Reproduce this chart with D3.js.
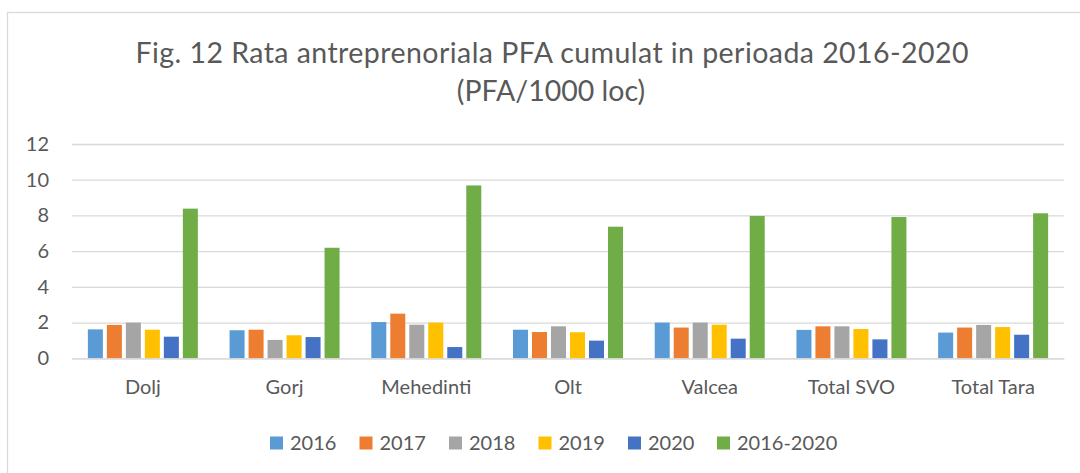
<!DOCTYPE html>
<html>
<head>
<meta charset="utf-8">
<script src="https://cdn.jsdelivr.net/npm/d3@7"></script>
<style>
  html, body { margin: 0; padding: 0; background: #fff; }
  svg { display: block; font-family: Lato, "Open Sans", sans-serif; }
</style>
</head>
<body>
<svg id="chart" width="1080" height="473"></svg>
<script>
const titleLines = ["Fig. 12 Rata antreprenoriala PFA cumulat in perioada 2016-2020", "(PFA/1000 loc)"];
const categories = ["Dolj", "Gorj", "Mehedinti", "Olt", "Valcea", "Total SVO", "Total Tara"];
const seriesNames = ["2016", "2017", "2018", "2019", "2020", "2016-2020"];
const seriesColors = ["#5B9BD5", "#ED7D31", "#A5A5A5", "#FFC000", "#4472C4", "#70AD47"];
const v2016 = [1.62, 1.57, 2.03, 1.60, 2.00, 1.59, 1.44];
const v2017 = [1.87, 1.60, 2.50, 1.47, 1.72, 1.79, 1.72];
const v2018 = [2.00, 1.03, 1.88, 1.79, 2.00, 1.79, 1.87];
const v2019 = [1.60, 1.29, 2.00, 1.46, 1.88, 1.64, 1.75];
const v2020 = [1.21, 1.19, 0.63, 0.99, 1.10, 1.06, 1.32];
const vTotal = [8.38, 6.19, 9.68, 7.37, 7.97, 7.91, 8.12];
const yTicks = [0, 2, 4, 6, 8, 10, 12];

const seriesValues = [v2016, v2017, v2018, v2019, v2020, vTotal];
const rows = categories.map((c, i) => ({ cat: c, vals: seriesNames.map((s, j) => ({ key: s, value: seriesValues[j][i], color: seriesColors[j] })) }));

const svg = d3.select("#chart");
const textColor = "#595959";
const gridColor = "#D9D9D9";

// outer chart border
svg.append("rect").attr("x", 7.5).attr("y", 12.5).attr("width", 1100).attr("height", 500)
  .attr("fill", "none").attr("stroke", gridColor).attr("stroke-width", 1.3);

// title
const title = svg.append("text").attr("text-anchor", "middle").attr("fill", textColor)
  .attr("font-size", 28.5);
title.append("tspan").attr("x", 552).attr("y", 63).attr("textLength", 833).attr("lengthAdjust", "spacing").text(titleLines[0]);
title.append("tspan").attr("x", 551).attr("y", 101).text(titleLines[1]);

const x0 = d3.scaleBand().domain(categories).range([72, 1064]).paddingInner(0).paddingOuter(0);
const x1 = d3.scaleBand().domain(seriesNames).range([0, x0.bandwidth()]).paddingInner(0.21).paddingOuter(0.835);
const y = d3.scaleLinear().domain([0, 12]).range([358.3, 144]);

// gridlines
const yAxis = d3.axisLeft(y).tickValues(yTicks).tickSize(-(1064 - 72)).tickPadding(23);
const gy = svg.append("g").attr("transform", "translate(72,0)").call(yAxis);
gy.select(".domain").remove();
gy.selectAll(".tick line").attr("stroke", gridColor).attr("stroke-width", 1.3);
gy.selectAll(".tick text").attr("fill", textColor).attr("font-size", 20)
  .attr("font-family", "Lato, 'Open Sans', sans-serif");

// bars
const groups = svg.append("g").selectAll("g").data(rows).join("g")
  .attr("transform", d => `translate(${x0(d.cat)},0)`);
groups.selectAll("rect").data(d => d.vals).join("rect")
  .attr("x", d => x1(d.key))
  .attr("width", x1.bandwidth())
  .attr("y", d => y(d.value))
  .attr("height", d => y(0) - y(d.value))
  .attr("fill", d => d.color);

// x axis
const xAxis = d3.axisBottom(x0).tickSize(0).tickPadding(22);
const gx = svg.append("g").attr("transform", `translate(0,${y(0)})`).call(xAxis);
gx.select(".domain").attr("stroke", gridColor).attr("stroke-width", 1.3);
gx.selectAll(".tick text").attr("fill", textColor).attr("font-size", 20)
  .attr("font-family", "Lato, 'Open Sans', sans-serif");

// legend
const legendX = [270, 359.5, 449, 538.5, 628, 717];
const lg = svg.append("g").selectAll("g").data(seriesNames).join("g")
  .attr("transform", (d, i) => `translate(${legendX[i]},436.5)`);
lg.append("rect").attr("width", 13).attr("height", 13).attr("fill", (d, i) => seriesColors[i]);
lg.append("text").attr("x", 20).attr("y", 13.5).attr("fill", textColor).attr("font-size", 20).text(d => d);
</script>
</body>
</html>
